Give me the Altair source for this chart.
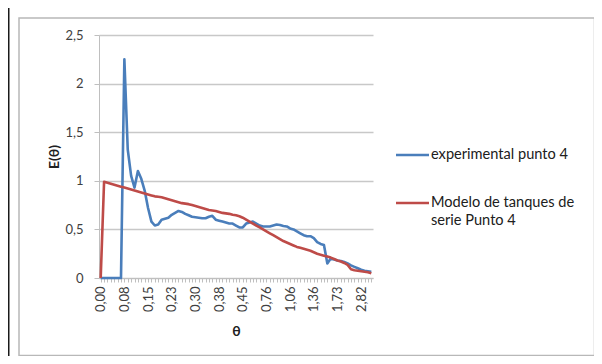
import altair as alt
import pandas as pd

# category index along the θ axis (Excel category axis)
idx = list(range(81))
x_labels = ['0,00', '0,08', '0,15', '0,23', '0,30', '0,38', '0,45',
            '0,76', '1,06', '1,36', '1,73', '2,82']
label_step = 7

experimental = [
    0, 0, 0, 0, 0, 0, 0, 2.25, 1.32, 1.05,
    0.93, 1.10, 1.02, 0.90, 0.72, 0.58, 0.54, 0.55, 0.60, 0.61,
    0.62, 0.65, 0.67, 0.69, 0.68, 0.66, 0.645, 0.63, 0.625, 0.62,
    0.615, 0.615, 0.63, 0.64, 0.60, 0.59, 0.58, 0.57, 0.56, 0.56,
    0.54, 0.52, 0.52, 0.56, 0.57, 0.58, 0.56, 0.54, 0.53, 0.53,
    0.53, 0.54, 0.55, 0.545, 0.535, 0.53, 0.51, 0.50, 0.48, 0.46,
    0.44, 0.43, 0.43, 0.41, 0.37, 0.35, 0.34, 0.15, 0.20, 0.19,
    0.18, 0.175, 0.165, 0.15, 0.13, 0.115, 0.10, 0.085, 0.075, 0.07,
    0.065,
]
modelo = [
    0, 0.99, 0.98, 0.97, 0.96, 0.95, 0.94, 0.93, 0.92, 0.91,
    0.90, 0.89, 0.88, 0.87, 0.86, 0.85, 0.84, 0.835, 0.83, 0.82,
    0.81, 0.80, 0.79, 0.78, 0.77, 0.765, 0.76, 0.75, 0.74, 0.73,
    0.72, 0.71, 0.70, 0.695, 0.69, 0.68, 0.67, 0.665, 0.66, 0.65,
    0.645, 0.635, 0.62, 0.60, 0.58, 0.56, 0.54, 0.52, 0.50, 0.48,
    0.46, 0.44, 0.42, 0.40, 0.38, 0.365, 0.35, 0.335, 0.32, 0.31,
    0.30, 0.29, 0.28, 0.265, 0.25, 0.24, 0.23, 0.22, 0.21, 0.195,
    0.18, 0.17, 0.155, 0.135, 0.09, 0.08, 0.075, 0.07, 0.065, 0.06,
    0.05,
]
series_names = ['experimental punto 4', 'Modelo de tanques de serie Punto 4']
series_colors = ['#4A7EBB', '#BE4B48']
y_ticks = [0, 0.5, 1, 1.5, 2, 2.5]

FONT = 'Lato'
AXIS_GREY = '#bfbfbf'
TEXT = '#404040'

df = pd.concat([
    pd.DataFrame({'i': idx, 'E': experimental, 'serie': series_names[0]}),
    pd.DataFrame({'i': idx, 'E': modelo, 'serie': series_names[1]}),
])

lab_array = '[' + ','.join("'" + s + "'" for s in x_labels) + ']'
x_label_expr = (f"datum.value % {label_step} == 0 ? "
                f"{lab_array}[datum.value / {label_step}] : ''")

x_enc = alt.X('i:Q',
              scale=alt.Scale(domain=[-0.5, len(idx) - 0.5], nice=False, zero=False),
              axis=alt.Axis(values=idx, labelExpr=x_label_expr, labelAngle=270,
                            labelAlign='right', labelBaseline='middle',
                            labelOverlap=False, labelFontSize=13, labelColor=TEXT,
                            labelFont=FONT, labelPadding=4,
                            tickSize=4, tickColor=AXIS_GREY, domainColor=AXIS_GREY,
                            grid=False, title='θ', titleFont=FONT,
                            titleFontSize=14, titleFontWeight='bold',
                            titleColor='#202020', titlePadding=13))
y_enc = alt.Y('E:Q',
              scale=alt.Scale(domain=[0, 2.5], nice=False),
              axis=alt.Axis(values=y_ticks,
                            labelExpr="replace(toString(datum.value), '.', ',')",
                            labelFontSize=13, labelColor=TEXT, labelFont=FONT,
                            labelPadding=11, tickSize=5, tickColor=AXIS_GREY,
                            domainColor=AXIS_GREY, grid=True, gridColor='#c8c8c8',
                            gridWidth=1.3,
                            title='E(θ)', titleFont=FONT, titleFontSize=14,
                            titleFontWeight='bold', titleColor='#202020',
                            titlePadding=3))

lines = alt.Chart(df).mark_line(strokeWidth=2.6, strokeJoin='round').encode(
    x=x_enc, y=y_enc,
    color=alt.Color('serie:N',
                    scale=alt.Scale(domain=series_names, range=series_colors),
                    legend=None),
    order='i:Q',
)

one = alt.Data(values=[{}])

frame = alt.Chart(one).mark_rect(fillOpacity=0, stroke='#b8b8b8', strokeWidth=1.5).encode(
    x=alt.value(-80), x2=alt.value(495.5), y=alt.value(-17), y2=alt.value(320.5))
left_bar = alt.Chart(one).mark_rule(color='#1a1a1a', strokeWidth=2).encode(
    x=alt.value(-90.5), y=alt.value(-27), y2=alt.value(321))

leg_blue_line = alt.Chart(one).mark_rule(color=series_colors[0], strokeWidth=2.6).encode(
    x=alt.value(297), x2=alt.value(330), y=alt.value(120))
leg_red_line = alt.Chart(one).mark_rule(color=series_colors[1], strokeWidth=2.6).encode(
    x=alt.value(297), x2=alt.value(330), y=alt.value(168))
txt = dict(align='left', baseline='middle', font=FONT, fontSize=14.6, color='#202020')
leg_t1 = alt.Chart(one).mark_text(**txt).encode(
    x=alt.value(332), y=alt.value(120), text=alt.value(series_names[0]))
leg_t2 = alt.Chart(one).mark_text(**txt).encode(
    x=alt.value(332), y=alt.value(168), text=alt.value('Modelo de tanques de'))
leg_t3 = alt.Chart(one).mark_text(**txt).encode(
    x=alt.value(332), y=alt.value(186), text=alt.value('serie Punto 4'))

chart = alt.layer(
    frame, left_bar, lines, leg_blue_line, leg_red_line, leg_t1, leg_t2, leg_t3
).properties(
    width=274, height=243,
    padding={'left': 91, 'top': 27, 'right': 221, 'bottom': 78},
    autosize=alt.AutoSizeParams(type='none'),
    background='white',
).configure_view(stroke=None)

chart.save('out.html', embed_options={'renderer': 'svg', 'actions': False})
